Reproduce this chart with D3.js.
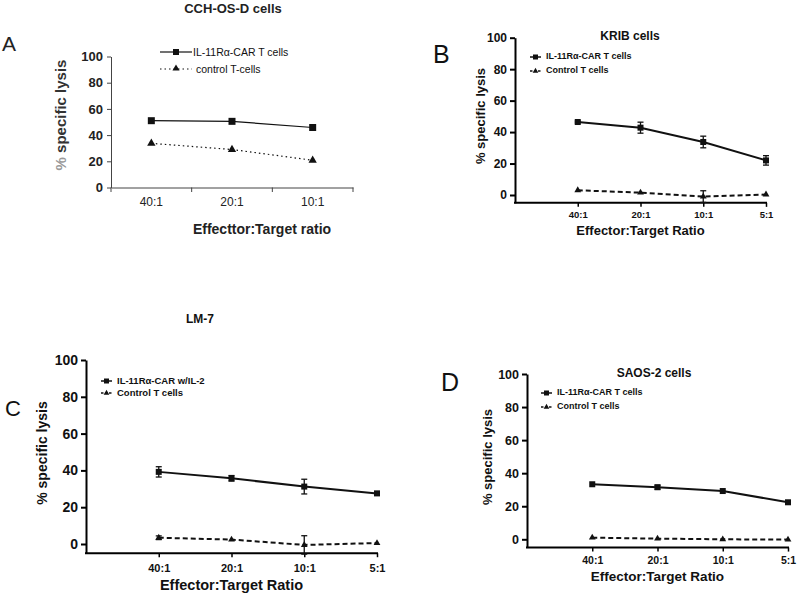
<!DOCTYPE html>
<html><head><meta charset="utf-8">
<script src="https://cdn.jsdelivr.net/npm/d3@7"></script>
<style>
html,body{margin:0;padding:0;background:#fff;}
svg{display:block;font-family:Arial,"Liberation Sans",sans-serif;}
</style></head>
<body>
<svg id="chart" width="800" height="594"></svg>
<script>
// ---------- data ----------
const ratiosA = ["40:1", "20:1", "10:1"];
const ratios4 = ["40:1", "20:1", "10:1", "5:1"];
const yTicks = [0, 20, 40, 60, 80, 100];

// Panel A: CCH-OS-D cells
const carA = [51, 50.5, 45.8];
const ctrlA = [33.7, 29, 20.8];

// Panel B: KRIB cells
const carB = [46.4, 42.8, 33.7, 22];
const carBErr = [0.6, 3.5, 3.7, 3];
const ctrlB = [3, 1.5, -1, 0.3];
const ctrlBErr = [0.3, 0.3, 3.7, 0.3];

// Panel C: LM-7
const carC = [39.2, 35.7, 31.2, 27.5];
const carCErr = [2.8, 1.5, 4, 1];
const ctrlC = [3.4, 2.4, -0.5, 0.5];
const ctrlCErr = [1, 0.3, 5, 0.3];

// Panel D: SAOS-2 cells
const carD = [33.3, 31.5, 29.2, 22.4];
const carDErr = [0.5, 1.2, 0.5, 0.5];
const ctrlD = [1, 0.4, 0, -0.2];
const ctrlDErr = [0, 0, 0, 0];

const titles = ["CCH-OS-D cells", "KRIB cells", "LM-7", "SAOS-2 cells"];
const letters = ["A", "B", "C", "D"];
const legA = ["IL-11R\u03b1-CAR T cells", "control  T-cells"];
const legB = ["IL-11R\u03b1-CAR T cells", "Control T cells"];
const legC = ["IL-11R\u03b1-CAR w/IL-2", "Control T cells"];
const xTitleA = "Effecttor:Target ratio";
const xTitle = "Effector:Target Ratio";
const yTitle = "specific lysis";

const svg = d3.select("#chart");

// ---------- Panel A (Excel style) ----------
(function () {
  const g = svg.append("g");
  const x = d3.scaleBand().domain(ratiosA).range([111, 353]);
  const y = d3.scaleLinear().domain([0, 100]).range([187.5, 56.5]);
  const axisCol = "#444";
  const ya = g.append("g").attr("transform", "translate(111,0)")
    .call(d3.axisLeft(y).tickValues(yTicks).tickSize(4).tickSizeOuter(0));
  ya.select(".domain").attr("stroke", axisCol);
  ya.selectAll(".tick line").attr("stroke", axisCol);
  ya.selectAll(".tick text").attr("font-size", 13).attr("font-weight", "bold")
    .attr("fill", "#222").attr("x", -8).attr("font-family", "Arial,'Liberation Sans',sans-serif");
  const xa = g.append("g").attr("transform", "translate(0,187.5)")
    .call(d3.axisBottom(x).tickSize(0).tickSizeOuter(0).tickPadding(10));
  xa.select(".domain").attr("stroke", axisCol);
  xa.selectAll(".tick text").attr("font-size", 12).attr("fill", "#222")
    .attr("font-family", "Arial,'Liberation Sans',sans-serif");
  const bounds = ratiosA.map(d => x(d)).concat([x.range()[1]]);
  g.selectAll(".bt").data(bounds).enter().append("line")
    .attr("x1", d => d).attr("x2", d => d).attr("y1", 187.5).attr("y2", 192)
    .attr("stroke", axisCol);
  const cx = d => x(d) + x.bandwidth() / 2;
  const line = d3.line().x((d, i) => cx(ratiosA[i])).y(d => y(d));
  g.append("path").datum(carA).attr("d", line).attr("fill", "none")
    .attr("stroke", "#111").attr("stroke-width", 1.2);
  g.append("path").datum(ctrlA).attr("d", line).attr("fill", "none")
    .attr("stroke", "#111").attr("stroke-width", 1.2).attr("stroke-dasharray", "1.5,3");
  g.selectAll(".sq").data(carA).enter().append("rect")
    .attr("x", (d, i) => cx(ratiosA[i]) - 3.5).attr("y", d => y(d) - 3.5)
    .attr("width", 7).attr("height", 7).attr("fill", "#111");
  const tri = d3.symbol().type(d3.symbolTriangle).size(30);
  g.selectAll(".tr").data(ctrlA).enter().append("path")
    .attr("d", tri).attr("transform", (d, i) => `translate(${cx(ratiosA[i])},${y(d)})`)
    .attr("fill", "#111");
  // legend
  g.append("line").attr("x1", 160).attr("x2", 192).attr("y1", 52).attr("y2", 52)
    .attr("stroke", "#111").attr("stroke-width", 1.2);
  g.append("rect").attr("x", 173).attr("y", 49).attr("width", 6).attr("height", 6).attr("fill", "#111");
  g.append("line").attr("x1", 160).attr("x2", 192).attr("y1", 69).attr("y2", 69)
    .attr("stroke", "#111").attr("stroke-width", 1.2).attr("stroke-dasharray", "1.5,3");
  g.append("path").attr("d", d3.symbol().type(d3.symbolTriangle).size(22)).attr("transform", "translate(176,68.5)").attr("fill", "#111");
  g.append("text").attr("x", 193).attr("y", 56).attr("font-size", 10.5).attr("fill", "#111").text(legA[0]);
  g.append("text").attr("x", 196).attr("y", 73).attr("font-size", 10.5).attr("fill", "#111").text(legA[1]);
  // titles
  g.append("text").attr("x", 233).attr("y", 13).attr("text-anchor", "middle")
    .attr("font-size", 13).attr("font-weight", "bold").attr("fill", "#222").text(titles[0]);
  g.append("text").attr("x", 262).attr("y", 234).attr("text-anchor", "middle")
    .attr("font-size", 14).attr("font-weight", "bold").attr("fill", "#222").text(xTitleA);
  const yt = g.append("text").attr("transform", "translate(66,115) rotate(-90)")
    .attr("text-anchor", "middle").attr("font-size", 15).attr("font-weight", "bold").attr("fill", "#333");
  yt.append("tspan").attr("fill", "#999").text("% ");
  yt.append("tspan").text(yTitle);
  g.append("text").attr("x", 2).attr("y", 51).attr("font-size", 21).attr("fill", "#222").text(letters[0]);
})();

// ---------- Panels B, C, D (GraphPad style) ----------
const panels = [
  { car: carB, carErr: carBErr, ctrl: ctrlB, ctrlErr: ctrlBErr, title: titles[1], letter: letters[1], leg: legB,
    x0: 515, x1: 766, y0: 195, y100: 37.7, tickFs: 12, xFs: 9.5, xLabY: 215, xTitleY: 235, xTitleFs: 13,
    yTitleX: 485, yTitleY: 116, yTitleFs: 13, titleX: 630, titleY: 40, titleFs: 12,
    letX: 433, letY: 63, letFs: 25, legX: 530, legY: [57, 71], legFs: 9 },
  { car: carC, carErr: carCErr, ctrl: ctrlC, ctrlErr: ctrlCErr, title: titles[2], letter: letters[2], leg: legC,
    x0: 86, x1: 377, y0: 544, y100: 360, tickFs: 14, xFs: 11, xLabY: 569, xTitleY: 590, xTitleFs: 14.5,
    yTitleX: 47, yTitleY: 453, yTitleFs: 14, titleX: 200, titleY: 323, titleFs: 12,
    letX: 5, letY: 416, letFs: 22, legX: 101, legY: [381, 393], legFs: 9.5 },
  { car: carD, carErr: carDErr, ctrl: ctrlD, ctrlErr: ctrlDErr, title: titles[3], letter: letters[3], leg: legB,
    x0: 527, x1: 788, y0: 539.3, y100: 374, tickFs: 12.5, xFs: 10.5, xLabY: 561, xTitleY: 581, xTitleFs: 13.5,
    yTitleX: 492, yTitleY: 457, yTitleFs: 13, titleX: 654, titleY: 377, titleFs: 12,
    letX: 441, letY: 391, letFs: 25, legX: 541, legY: [393, 407], legFs: 9 }
];

panels.forEach(p => {
  const g = svg.append("g");
  const unit = (p.y0 - p.y100) / 100;
  const y = d3.scaleLinear().domain([-5, 100]).range([p.y0 + 5 * unit, p.y100]);
  const step = (p.x1 - p.x0) / 4;
  const x = d3.scalePoint().domain(ratios4).range([p.x0 + step, p.x1]);
  const yb = y(-5);
  const ya = g.append("g").attr("transform", `translate(${p.x0},0)`)
    .call(d3.axisLeft(y).tickValues(yTicks).tickSize(5).tickSizeOuter(0));
  ya.select(".domain").attr("stroke", "#000").attr("stroke-width", 2);
  ya.selectAll(".tick line").attr("stroke", "#000").attr("stroke-width", 2);
  ya.selectAll(".tick text").attr("font-size", p.tickFs).attr("font-weight", "bold").attr("fill", "#111")
    .attr("x", -8).attr("font-family", "Arial,'Liberation Sans',sans-serif");
  const xa = g.append("g").attr("transform", `translate(0,${yb})`)
    .call(d3.axisBottom(x).tickSize(4).tickSizeOuter(0).tickPadding(5));
  xa.select(".domain").remove();
  xa.selectAll(".tick line").attr("stroke", "#000").attr("stroke-width", 1.5);
  xa.selectAll(".tick text").attr("font-size", p.xFs).attr("font-weight", "bold").attr("fill", "#111")
    .attr("y", null).attr("dy", null).attr("transform", `translate(0,${p.xLabY - yb})`)
    .attr("dominant-baseline", "middle").attr("font-family", "Arial,'Liberation Sans',sans-serif");
  g.append("line").attr("x1", p.x0 - 1).attr("x2", p.x1 + 1).attr("y1", yb).attr("y2", yb)
    .attr("stroke", "#000").attr("stroke-width", 2);
  const line = d3.line().x((d, i) => x(ratios4[i])).y(d => y(d));
  const series = [
    { v: p.car, e: p.carErr, dash: null },
    { v: p.ctrl, e: p.ctrlErr, dash: "5,3" }
  ];
  series.forEach((s, si) => {
    const eg = g.append("g");
    s.v.forEach((v, i) => {
      if (s.e[i] <= 0.5) return;
      const cx = x(ratios4[i]);
      eg.append("line").attr("x1", cx).attr("x2", cx).attr("y1", y(v - s.e[i])).attr("y2", y(v + s.e[i]))
        .attr("stroke", "#111").attr("stroke-width", 1.3);
      [v - s.e[i], v + s.e[i]].forEach(ev => {
        eg.append("line").attr("x1", cx - 3).attr("x2", cx + 3).attr("y1", y(ev)).attr("y2", y(ev))
          .attr("stroke", "#111").attr("stroke-width", 1.3);
      });
    });
    g.append("path").datum(s.v).attr("d", line).attr("fill", "none")
      .attr("stroke", "#111").attr("stroke-width", 2).attr("stroke-dasharray", s.dash);
    if (si === 0) {
      g.selectAll(null).data(s.v).enter().append("rect")
        .attr("x", (d, i) => x(ratios4[i]) - 3).attr("y", d => y(d) - 3)
        .attr("width", 6).attr("height", 6).attr("fill", "#111");
    } else {
      g.selectAll(null).data(s.v).enter().append("path")
        .attr("d", d3.symbol().type(d3.symbolTriangle).size(20))
        .attr("transform", (d, i) => `translate(${x(ratios4[i])},${y(d)})`).attr("fill", "#111");
    }
  });
  p.legY.forEach((ly, i) => {
    g.append("line").attr("x1", p.legX).attr("x2", p.legX + 11).attr("y1", ly).attr("y2", ly)
      .attr("stroke", "#111").attr("stroke-width", 1.5).attr("stroke-dasharray", i ? "2.5,1.5" : null);
    if (i === 0) g.append("rect").attr("x", p.legX + 3).attr("y", ly - 2.5).attr("width", 5).attr("height", 5).attr("fill", "#111");
    else g.append("path").attr("d", d3.symbol().type(d3.symbolTriangle).size(14))
      .attr("transform", `translate(${p.legX + 5.5},${ly})`).attr("fill", "#111");
    g.append("text").attr("x", p.legX + 16).attr("y", ly).attr("dominant-baseline", "middle")
      .attr("font-size", p.legFs).attr("font-weight", "bold").attr("fill", "#111").text(p.leg[i]);
  });
  g.append("text").attr("x", p.titleX).attr("y", p.titleY).attr("text-anchor", "middle")
    .attr("font-size", p.titleFs).attr("font-weight", "bold").attr("fill", "#111").text(p.title);
  g.append("text").attr("x", (p.x0 + p.x1) / 2).attr("y", p.xTitleY).attr("text-anchor", "middle")
    .attr("font-size", p.xTitleFs).attr("font-weight", "bold").attr("fill", "#111").text(xTitle);
  g.append("text").attr("transform", `translate(${p.yTitleX},${p.yTitleY}) rotate(-90)`)
    .attr("text-anchor", "middle").attr("font-size", p.yTitleFs).attr("font-weight", "bold").attr("fill", "#111")
    .text("% " + yTitle);
  g.append("text").attr("x", p.letX).attr("y", p.letY).attr("font-size", p.letFs).attr("fill", "#111").text(p.letter);
});
</script>
</body></html>
